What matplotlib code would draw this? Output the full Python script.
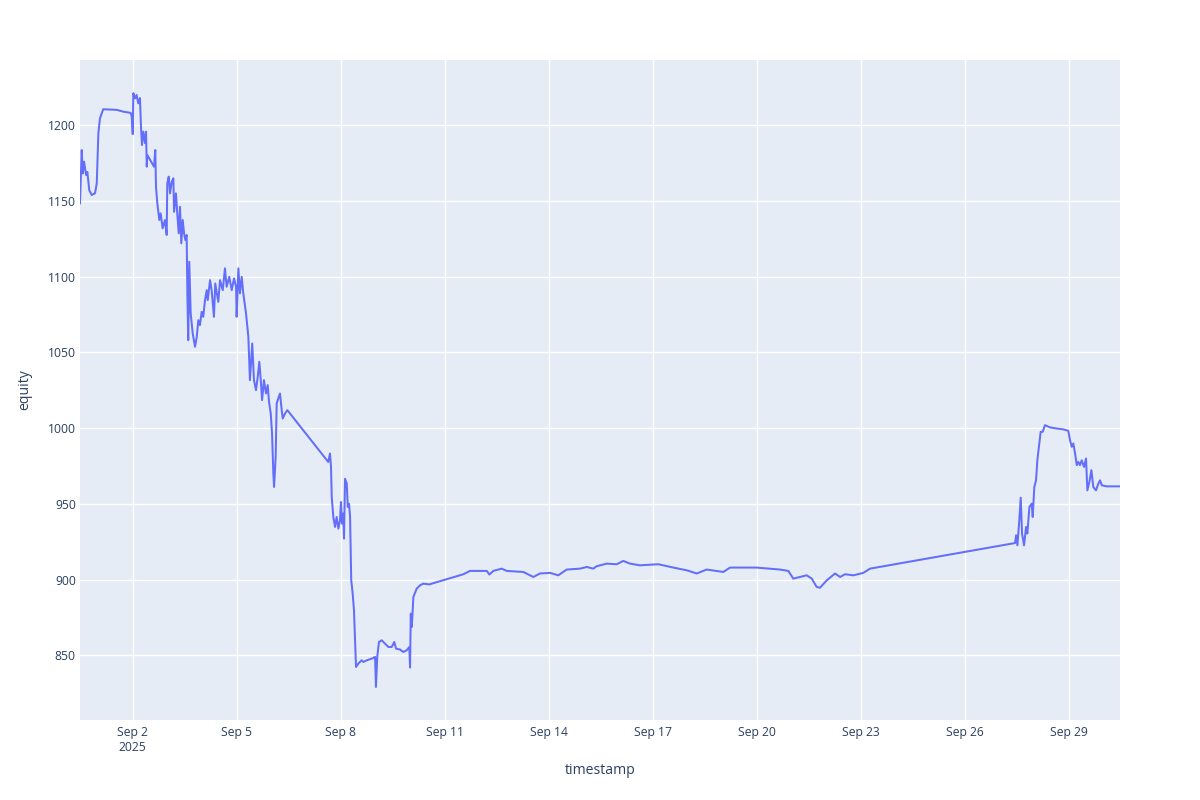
import numpy as np
import pandas as pd
import matplotlib
matplotlib.use('Agg')
import matplotlib.pyplot as plt
import matplotlib.dates as mdates

# ── Data ──────────────────────────────────────────────────────────
start_time = pd.Timestamp('2025-08-31 11:30')
hours = [
    0, 1.2, 1.9, 2.8, 4.2, 5.1, 6.4, 8.1, 10.4, 11.6, 12.7, 13.8, 16.1, 25.4, 30.0,
    35.1, 35.8, 36.5, 36.9, 38.1, 39.2, 40.3, 41.5, 42.2, 42.9, 43.8, 45.0, 45.7,
    46.2, 46.6, 51.2, 52.1, 52.6, 53.5, 54.9, 55.8, 57.2, 58.8, 60.0, 60.4, 61.4,
    62.3, 63.5, 64.6, 65.1, 66.4, 67.3, 68.3, 69.2, 70.1, 71.1, 72.0, 72.9, 73.8,
    74.3, 74.9, 75.6, 76.6, 78.0, 79.6, 80.8, 81.9, 83.0, 84.2, 85.3, 86.5, 87.7,
    88.4, 90.0, 91.1, 92.7, 93.6, 95.7, 96.9, 98.8, 100.3, 101.5, 103.3, 105.0,
    106.6, 108.0, 108.4, 109.6, 110.7, 111.9, 113.0, 114.9, 116.5, 117.6, 119.2,
    120.4, 121.8, 123.0, 124.1, 125.1, 126.0, 127.3, 128.7, 129.9, 130.8, 132.0,
    132.9, 133.8, 134.3, 135.4, 136.1, 137.2, 138.4, 139.6, 140.3, 141.9, 143.5,
    171.8, 173.0, 173.7, 174.2, 175.3, 176.5, 177.6, 178.8, 179.9, 180.6, 181.3,
    182.2, 182.7, 183.4, 184.6, 185.3, 186.2, 186.9, 187.7, 188.7, 189.6, 190.5,
    191.0, 192.6, 194.9, 196.1, 198.4, 201.9, 204.2, 204.8, 205.7, 206.9, 208.8,
    211.1, 213.4, 215.7, 217.5, 218.7, 221.5, 223.7, 226.1, 227.9, 228.4, 228.9,
    229.6, 230.7, 233.0, 235.3, 237.6, 241.7,
    265.3, 269.9, 281.5, 283.3, 286.0, 291.8, 295.3, 306.8, 313.7, 318.3, 325.3,
    331.0, 336.8, 346.0, 350.7, 355.2, 357.6, 364.5, 371.4, 376.0, 380.6, 387.5,
    400.2, 410.6, 419.9, 426.8, 433.7, 445.2, 449.8, 468.3, 484.4, 490.2, 493.6,
    502.9, 506.4, 509.8, 512.1, 516.8, 522.5, 526.0, 529.4, 535.2, 542.1, 546.7,
    647.1, 647.8, 648.7, 650.0, 651.0, 651.9, 653.3, 654.7, 655.6, 657.0, 658.6,
    659.3, 660.4, 661.6, 662.5, 663.9, 664.8, 666.2, 667.8, 671.3, 675.9, 680.5,
    683.9, 685.1, 686.3, 687.4, 688.6, 689.8, 690.9, 692.0, 693.2, 694.8, 696.2,
    697.1, 698.5, 699.9, 701.2, 703.1, 704.7, 705.9, 707.1, 710.5, 719.7,
]
equity = [
    1148.3, 1183.5, 1168.0, 1175.8, 1167.0, 1169.0, 1157.0, 1153.8, 1155.0, 1161.5,
    1194.5, 1204.4, 1210.4, 1210.0, 1208.8,
    1208.0, 1205.5, 1194.0, 1221.0, 1217.6, 1219.8, 1214.3, 1217.8, 1198.9, 1186.8,
    1195.6, 1188.0, 1195.6, 1172.5, 1180.2, 1172.5, 1183.5, 1159.0, 1148.3, 1137.3,
    1141.7, 1131.8, 1137.3, 1127.4, 1161.5, 1165.9, 1154.9, 1162.6, 1164.8, 1142.7,
    1154.9, 1141.7, 1128.5, 1146.0, 1121.9, 1137.3, 1128.5, 1124.0, 1127.4,
    1088.9, 1058.0, 1109.7, 1075.6, 1062.4, 1053.6, 1060.2, 1071.2, 1067.9, 1076.7,
    1073.4, 1084.4, 1091.0, 1084.4, 1097.6, 1091.0, 1073.4, 1095.4, 1083.3, 1097.6,
    1091.0, 1105.4, 1093.2, 1099.8, 1091.0, 1098.8, 1093.2, 1073.4, 1105.4, 1088.9,
    1099.8, 1088.9, 1075.6, 1060.2, 1031.6, 1055.8, 1031.6, 1025.0, 1033.8, 1043.7,
    1031.6, 1018.4, 1031.6, 1022.8, 1028.3, 1017.3, 1009.6, 996.4, 970.0, 961.1,
    981.0, 1016.2, 1019.5, 1022.8, 1011.8, 1006.3, 1009.6, 1011.8,
    977.6, 983.2, 974.3, 954.5, 941.3, 934.7, 941.3, 933.6, 939.0, 951.2, 936.9,
    943.5, 927.0, 966.5, 963.3, 947.9, 950.0, 941.3, 899.5, 890.7, 879.7, 855.5,
    842.3, 844.5, 846.7, 845.6, 846.7, 847.8, 848.9, 829.1, 848.9, 858.8, 859.9,
    857.7, 855.5, 855.5, 858.8, 854.4, 853.8, 852.2, 853.3, 855.5, 841.9, 877.5,
    868.7, 888.5, 894.0, 896.2, 897.3, 896.8,
    903.5, 905.7, 905.7, 903.3, 905.7, 907.2, 905.7, 905.0, 901.7, 904.0, 904.4,
    902.8, 906.6, 907.2, 908.3, 907.2, 908.8, 910.5, 910.1, 912.3, 910.5, 909.4,
    910.1, 907.9, 906.1, 904.0, 906.6, 905.0, 907.9, 907.9, 906.6, 905.7, 900.6,
    902.8, 900.6, 895.1, 894.6, 899.5, 904.0, 901.7, 903.5, 902.8, 904.4, 907.2,
    924.1, 929.2, 922.6, 939.0, 954.0, 930.4, 922.6, 934.7, 930.4, 947.9, 950.1,
    941.3, 961.1, 965.5, 978.7, 989.8, 997.5, 997.5, 1001.9, 1000.4, 999.7, 999.1,
    998.2, 992.0, 987.6, 989.8, 983.2, 975.5, 977.6, 975.5, 978.7, 974.3, 979.9,
    958.9, 964.4, 972.2, 961.1, 958.9, 963.3, 965.5, 962.2, 961.5, 961.5,
]
x_tick_dates = pd.date_range('2025-09-02', '2025-09-29', freq='3D')
x_tick_labels = ['Sep 2\n2025'] + [f'Sep {d.day}' for d in x_tick_dates[1:]]
y_ticks = [850, 900, 950, 1000, 1050, 1100, 1150, 1200]

timestamps = start_time + pd.to_timedelta(hours, unit='h')

# ── Style (plotly-like) ───────────────────────────────────────────
TEXT = '#2a3f5f'
plt.rcParams['font.family'] = ['Open Sans', 'DejaVu Sans']

fig = plt.figure(figsize=(12, 8), dpi=100)
ax = fig.add_axes([80 / 1200, 80 / 800, 1040 / 1200, 660 / 800])
ax.set_facecolor('#E5ECF6')

ax.plot(timestamps, equity, color='#636EFA', linewidth=1.45, solid_joinstyle='round')

ax.set_xlim(timestamps[0], timestamps[-1])
ax.set_ylim(807.3, 1242.9)
ax.set_xticks(x_tick_dates)
ax.set_xticklabels(x_tick_labels)
ax.set_yticks(y_ticks)

ax.grid(True, color='white', linewidth=1.0)
ax.set_axisbelow(True)
for s in ax.spines.values():
    s.set_visible(False)
ax.tick_params(length=0, labelsize=8.7, labelcolor=TEXT)
ax.tick_params(axis='x', pad=4)
ax.tick_params(axis='y', pad=3)

fig.text(600 / 1200, 1 - 771 / 800, 'timestamp', ha='center', va='center',
         fontsize=10.1, color=TEXT)
fig.text(25 / 1200, 1 - 390 / 800, 'equity', ha='center', va='center',
         rotation=90, fontsize=10.1, color=TEXT)

fig.savefig('out.png', dpi=100)
